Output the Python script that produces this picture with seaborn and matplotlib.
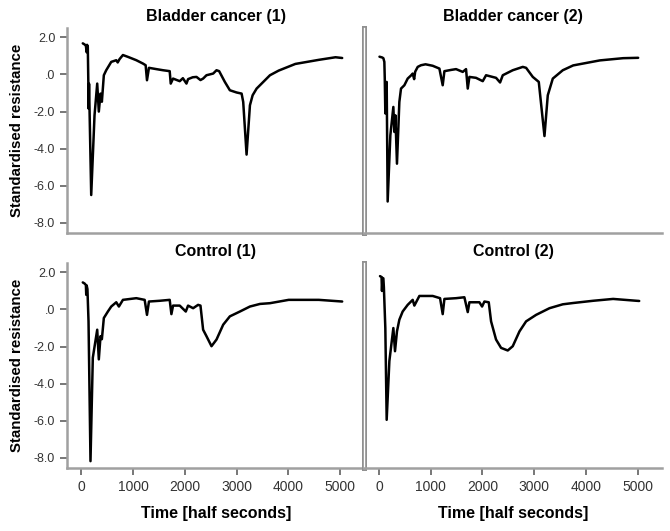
import pandas as pd
import matplotlib.pyplot as plt
import matplotlib.patheffects as pe
from matplotlib.ticker import FuncFormatter
import seaborn as sns

# --- Data ---
panels = ["Bladder cancer (1)", "Bladder cancer (2)", "Control (1)", "Control (2)"]

time_bc1 = [25, 60, 85, 100, 108, 122, 132, 138, 146, 188, 252, 304, 335, 368, 394,
            432, 478, 575, 672, 700, 736, 801, 898, 1060, 1188, 1240, 1266, 1304,
            1447, 1576, 1705, 1725, 1770, 1899, 1960, 2029, 2060, 2150, 2223, 2300,
            2351, 2416, 2545, 2610, 2661, 2771, 2868, 2998, 3095, 3126, 3191, 3256,
            3308, 3385, 3514, 3643, 3811, 4134, 4587, 4910, 5039]
resist_bc1 = [1.68, 1.62, 1.55, 1.20, 1.60, 1.50, -0.40, -1.84, -0.50, -6.50, -2.20,
              -0.49, -2.00, -1.03, -1.47, -0.04, 0.23, 0.68, 0.77, 0.65, 0.83, 1.05,
              0.95, 0.77, 0.59, 0.50, -0.31, 0.36, 0.29, 0.23, 0.18, -0.49, -0.22,
              -0.36, -0.20, -0.49, -0.25, -0.15, -0.13, -0.30, -0.22, -0.04, 0.05,
              0.23, 0.18, -0.40, -0.85, -0.97, -1.03, -1.48, -4.32, -1.66, -1.12,
              -0.76, -0.40, -0.04, 0.21, 0.57, 0.79, 0.93, 0.89]

time_bc2 = [10, 60, 85, 104, 112, 123, 149, 168, 220, 278, 298, 317, 348, 394, 426,
            491, 555, 620, 652, 680, 700, 749, 813, 900, 1039, 1168, 1232, 1265,
            1400, 1490, 1619, 1683, 1716, 1748, 1876, 2006, 2070, 2263, 2341, 2393,
            2586, 2780, 2844, 2973, 3089, 3199, 3263, 3360, 3553, 3754, 4269, 4720,
            5010]
resist_bc2 = [0.96, 0.92, 0.88, 0.68, -0.20, -2.10, -0.40, -6.85, -3.28, -1.75,
              -3.10, -2.20, -4.81, -1.48, -0.76, -0.58, -0.22, -0.05, 0.05, -0.25,
              0.15, 0.41, 0.50, 0.55, 0.47, 0.32, -0.58, 0.18, 0.25, 0.29, 0.14,
              0.29, -0.76, -0.13, -0.18, -0.36, -0.04, -0.18, -0.43, -0.04, 0.23,
              0.41, 0.36, -0.13, -0.40, -3.32, -1.12, -0.22, 0.23, 0.49, 0.76, 0.88,
              0.90]

time_c1 = [25, 60, 85, 92, 100, 115, 136, 174, 219, 304, 335, 368, 394, 432, 510,
           575, 672, 723, 801, 1060, 1221, 1266, 1304, 1512, 1705, 1738, 1770, 1899,
           2016, 2060, 2158, 2254, 2300, 2351, 2416, 2513, 2610, 2739, 2868, 3062,
           3256, 3450, 3643, 4005, 4587, 5039]
resist_c1 = [1.46, 1.40, 1.32, 0.79, 1.30, 1.10, -0.64, -8.18, -2.60, -1.09, -2.69,
             -1.44, -1.60, -0.46, -0.11, 0.16, 0.39, 0.16, 0.52, 0.61, 0.52, -0.29,
             0.43, 0.47, 0.52, -0.25, 0.21, 0.21, -0.11, 0.21, 0.07, 0.25, 0.21,
             -1.09, -1.44, -1.98, -1.62, -0.82, -0.37, -0.11, 0.16, 0.30, 0.34, 0.52,
             0.52, 0.43]

time_c2 = [20, 50, 58, 70, 85, 95, 123, 149, 201, 278, 310, 348, 394, 458, 555,
           652, 684, 781, 1039, 1181, 1232, 1265, 1490, 1651, 1716, 1748, 1941, 1993,
           2038, 2122, 2167, 2263, 2360, 2489, 2586, 2716, 2844, 3037, 3296, 3553,
           3754, 4139, 4526, 4979, 5030]
resist_c2 = [1.80, 1.75, 1.00, 1.70, 1.68, 1.20, -1.00, -5.95, -2.78, -1.00, -2.25,
             -1.18, -0.55, -0.11, 0.25, 0.52, 0.21, 0.73, 0.73, 0.61, -0.25, 0.57,
             0.61, 0.66, -0.14, 0.39, 0.39, 0.16, 0.43, 0.39, -0.64, -1.62, -2.07,
             -2.21, -1.98, -1.18, -0.64, -0.29, 0.07, 0.28, 0.35, 0.47, 0.57, 0.47,
             0.46]

x_ticks = [0, 1000, 2000, 3000, 4000, 5000]
y_ticks = [2, 0, -2, -4, -6, -8]

# --- Long table for seaborn ---
frames = []
for name, t, r in zip(panels,
                      [time_bc1, time_bc2, time_c1, time_c2],
                      [resist_bc1, resist_bc2, resist_c1, resist_c2]):
    frames.append(pd.DataFrame({"panel": name, "time": t, "resistance": r}))
df = pd.concat(frames, ignore_index=True)

sns.set_style("ticks")
plt.rcParams["font.family"] = ["Liberation Sans", "DejaVu Sans"]

g = sns.relplot(
    data=df, x="time", y="resistance", col="panel", col_wrap=2, kind="line",
    estimator=None, sort=False, color="black", linewidth=1.8,
    height=2.5, aspect=1.3, facet_kws={"sharex": True, "sharey": True}
)
g.figure.set_size_inches(6.7, 5.31)
g.figure.subplots_adjust(left=0.1, right=0.988, bottom=0.1186, top=0.947,
                         wspace=0, hspace=0.147)
g.set(xlim=(-280, 5470), ylim=(-8.55, 2.5), xticks=x_ticks, yticks=y_ticks)
g.set_titles("{col_name}", fontweight="bold", size=11.5, pad=5, color="black")
g.set_xlabels("Time [half seconds]", fontweight="bold", fontsize=11.5,
              labelpad=9, color="black")
g.set_ylabels("Standardised resistance", fontweight="bold", fontsize=10.8,
              labelpad=7, color="black")


# SPSS style labels: ".0" for zero
def spss_fmt(v, pos):
    s = f"{v:.1f}"
    return ".0" if s in ("0.0", "-0.0") else s


axes = g.axes.flatten()
for i, ax in enumerate(axes):
    ax.yaxis.set_major_formatter(FuncFormatter(spss_fmt))
    for side in ["left", "bottom"]:
        ax.spines[side].set_color("#a0a0a0")
        ax.spines[side].set_linewidth(1.8)
    ax.tick_params(colors="#606060", labelcolor="#333333", length=5, width=1.2)
    ax.tick_params(axis="y", labelsize=9)
    ax.tick_params(axis="x", labelsize=10)
    if i < 2:
        ax.tick_params(axis="x", length=0)
    if i % 2 == 1:
        ax.tick_params(axis="y", length=0)
        ax.spines["left"].set_path_effects([
            pe.Stroke(linewidth=3.6, foreground="#909090"),
            pe.Stroke(linewidth=1.0, foreground="white"),
        ])

g.figure.savefig("out.png", dpi=100)
